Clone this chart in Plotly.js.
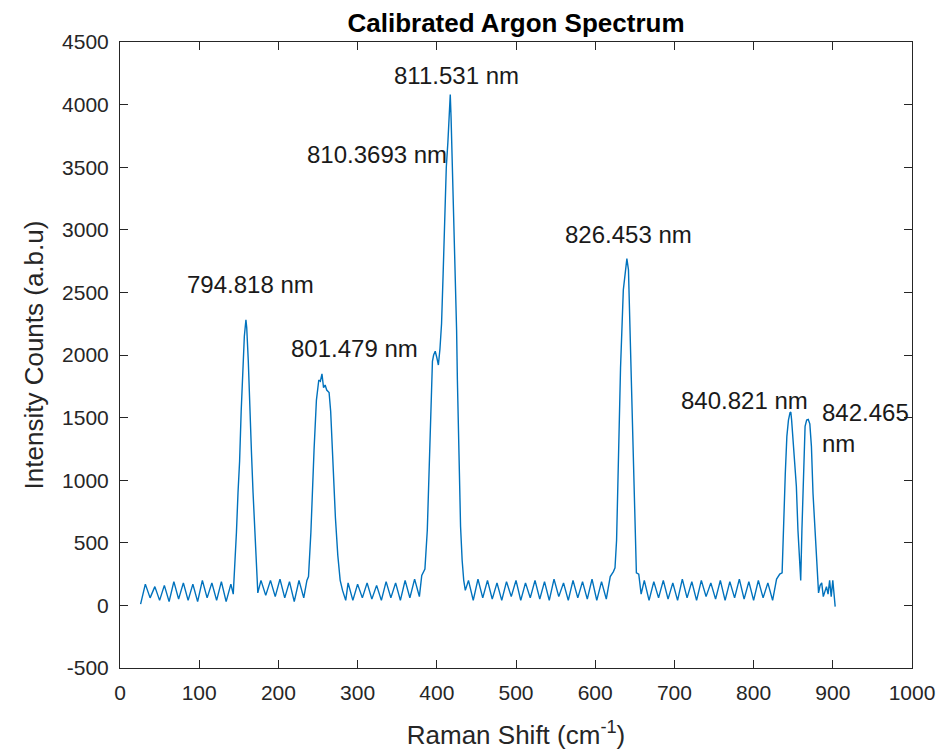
<!DOCTYPE html>
<html>
<head>
<meta charset="utf-8">
<script src="https://cdn.plot.ly/plotly-3.0.1.min.js"></script>
<style>html,body{margin:0;padding:0;background:#fff;}#chart{width:950px;height:753px;}</style>
</head>
<body>
<div id="chart"></div>
<script>
// Raman shift (cm^-1) sample positions
const ramanShift = [
  26,32,38,44,50,56,62,68,74,80,86,92,98,104,110,116,122,128,134,140,
  143,145,147,149,151,153,155,157,159,160,162,164,166,168,170,172,174,
  178,184,190,196,202,208,214,220,226,232,236,
  238,241,243,245,248,251,253,255,257,259,261,264,266,268,270,272,275,278,281,285,
  288,294,300,306,312,318,324,330,336,342,348,354,360,366,372,378,381,385,
  388,390,392,394.5,396,398,400,402,404,406,408,410,412,414,416,417,418,420,422,423,425,426,427,428,430,432,434,436,
  440,446,452,458,464,470,476,482,488,494,500,506,512,518,524,530,536,542,548,554,560,566,572,578,584,590,596,602,608,614,619,623,625,
  627,629,632,635.5,638,640,642,645,648,650,652,655,
  658,662,668,674,680,686,692,698,704,710,716,722,728,734,740,746,752,758,764,770,776,782,788,794,800,806,812,818,824,829,833,
  836,838,840,842,844,846,847,848,850,852,854,856,858,859.5,
  861,863,865,867,869,871,873,875,878,880,882,884,886,888,890,892,894,896,898,900,903
];
// Intensity counts (a.b.u)
const intensity = [
  10,170,60,150,40,160,30,190,50,180,40,170,30,200,60,180,40,190,30,170,
  90,300,580,900,1150,1550,1900,2150,2280,2220,1950,1650,1220,900,600,280,100,
  200,80,200,70,210,60,190,30,200,60,200,
  230,580,950,1240,1640,1800,1790,1850,1740,1760,1720,1700,1550,1250,950,700,400,200,120,40,
  180,40,170,60,180,50,160,40,190,60,180,40,200,60,210,70,240,290,
  600,980,1500,1950,2000,2030,1980,1920,2050,2250,2650,3100,3500,3700,4070,4080,3900,3450,3000,2730,2200,1800,1500,1190,630,360,200,120,
  200,40,210,60,200,50,180,40,190,70,200,40,180,60,200,50,190,40,210,70,180,40,200,60,190,50,210,40,190,50,230,270,300,
  520,1110,1900,2520,2680,2770,2680,1960,1350,710,260,250,
  90,200,40,190,60,200,50,180,40,210,60,190,40,200,70,180,50,200,40,190,60,210,50,190,40,200,60,180,40,210,250,
  260,700,1050,1350,1480,1540,1545,1480,1300,1190,950,600,300,200,
  600,1080,1430,1480,1485,1450,1270,895,550,260,100,160,180,70,120,150,90,200,70,200,-10
];
// Axis ticks
const xTickVals = [0,100,200,300,400,500,600,700,800,900,1000];
const yTickVals = [-500,0,500,1000,1500,2000,2500,3000,3500,4000,4500];
const yTickText = ["-500","0","500","1000","1500","2000","2500","3000","3500","4000","4500"];
// Peak labels
const labelText = ["794.818 nm","801.479 nm","811.531 nm","810.3693 nm","826.453 nm","840.821 nm","842.465<br>nm"];
const labelX = [82, 213, 343, 234, 559, 706, 884];
const labelY = [2560, 2050, 4230, 3600, 2960, 1640, 1420];

const fontFam = '"Liberation Sans", Arial, Helvetica, sans-serif';
const axisCol = '#262626';

const trace = {
  x: ramanShift, y: intensity, type: 'scatter', mode: 'lines',
  line: {color: '#0072BD', width: 1.4}, hoverinfo: 'skip'
};

const annotations = labelText.map((t, i) => ({
  x: labelX[i], y: labelY[i], xref: 'x', yref: 'y', text: t, showarrow: false,
  xanchor: 'left', yanchor: 'middle', align: 'left',
  font: {family: fontFam, size: 24, color: '#1a1a1a'}
}));

const axisCommon = {
  showline: true, linecolor: axisCol, linewidth: 1, mirror: 'ticks',
  ticks: 'inside', ticklen: 8, tickcolor: axisCol, showgrid: false, zeroline: false,
  tickfont: {family: fontFam, size: 21, color: axisCol}
};

const layout = {
  width: 950, height: 753,
  margin: {l: 120, r: 38, t: 42, b: 85},
  paper_bgcolor: '#fff', plot_bgcolor: '#fff',
  showlegend: false,
  title: {text: '<b>Calibrated Argon Spectrum</b>', x: 0.5, xref: 'paper', xanchor: 'center',
          y: 0.970, yref: 'container', yanchor: 'middle',
          font: {family: fontFam, size: 26, color: '#000'}},
  xaxis: Object.assign({}, axisCommon, {
    range: [0, 1000], tickmode: 'array', tickvals: xTickVals, ticklabelstandoff: 6,
    title: {text: 'Raman Shift (cm<sup>-1</sup>)', standoff: 22, font: {family: fontFam, size: 26, color: axisCol}}
  }),
  yaxis: Object.assign({}, axisCommon, {
    range: [-500, 4500], tickmode: 'array', tickvals: yTickVals, ticktext: yTickText, ticklabelstandoff: 6,
    title: {text: 'Intensity Counts (a.b.u)', standoff: 10, font: {family: fontFam, size: 26, color: axisCol}}
  }),
  annotations: annotations
};

Plotly.newPlot('chart', [trace], layout, {displayModeBar: false, staticPlot: true});
</script>
</body>
</html>
